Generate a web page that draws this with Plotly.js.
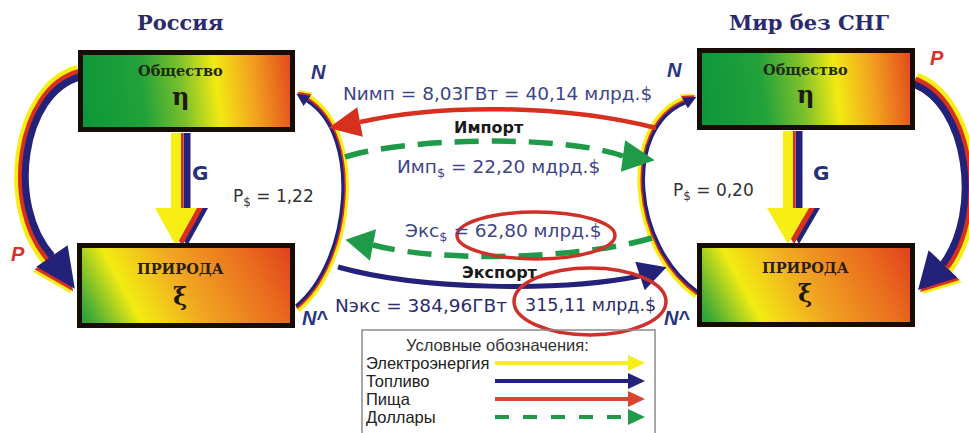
<!DOCTYPE html>
<html><head><meta charset="utf-8">
<script src="https://cdn.plot.ly/plotly-3.0.1.min.js"></script>
<style>html,body{margin:0;padding:0;background:#fff}</style>
</head><body><div id="c" style="width:969px;height:433px"></div>
<script>
// ---- data ----
const regions = ['Россия', 'Мир без СНГ'];
const psValues = [1.22, 0.20];            // P$ for Russia, world
const flowNames = ['Импорт', 'Экспорт'];
const energyGW = [8.03, 384.96];          // N imp, N exp (ГВт)
const energyBn = [40.14, 315.11];         // млрд.$
const dollarsBn = [22.20, 62.80];         // Имп$, Экс$
const boxLabels = ['Общество', 'ПРИРОДА'];
const boxSymbols = ['η', 'ξ'];
const legendTitle = 'Условные обозначения:';
const legendItems = ['Электроэнергия', 'Топливо', 'Пища', 'Доллары'];

const fmt = v => v.toFixed(2).replace('.', ',');

const NAVY = '#22227a', RED = '#d8301f', YEL = '#f6ee14', GRN = '#1e9a48';
const TXT = '#3d4589';

// ---- helpers ----
function bez(p) {
  return `M${p[0][0]},${p[0][1]} C${p[1][0]},${p[1][1]} ${p[2][0]},${p[2][1]} ${p[3][0]},${p[3][1]}`;
}
function radial(p, c, k) {
  return p.map(q => { const dx = q[0]-c[0], dy = q[1]-c[1]; const l = Math.hypot(dx,dy)||1; return [q[0]+dx/l*k, q[1]+dy/l*k]; });
}
function head(base, dir, L, W) {
  const l = Math.hypot(dir[0], dir[1]); const ux = dir[0]/l, uy = dir[1]/l; const px = -uy, py = ux;
  const t = [base[0]+ux*L, base[1]+uy*L];
  return `M${base[0]+px*W},${base[1]+py*W} L${t[0]},${t[1]} L${base[0]-px*W},${base[1]-py*W} Z`;
}
const shapes = [];
function line(path, color, width, dash) {
  shapes.push({type:'path', path, line:{color, width, dash: dash||'solid'}, fillcolor:'rgba(0,0,0,0)'});
}
function fill(path, color) {
  shapes.push({type:'path', path, line:{width:0}, fillcolor:color});
}
// layered arc: yellow outer, red middle, navy inner
function arc(pts, c, widths, hd) {
  const layers = [[YEL, widths[0], widths[3]], [RED, widths[1], widths[4]], [NAVY, widths[2], 0]];
  layers.forEach(([col, w, k]) => {
    const p = radial(pts, c, k);
    line(bez(p), col, w);
    if (hd) {
      const b = radial([hd.base], c, k)[0];
      fill(head(b, hd.dir, hd.L, hd.W), col);
    }
  });
}

// ---- boxes (gradient images + black border) ----
const topStops = [[0,'#0c963a'],[0.3,'#22a23a'],[0.48,'#7cc02c'],[0.64,'#f2ea12'],[0.8,'#f2a41f'],[1,'#e2461c']];
const botStops = [[0,'#0c9a3a'],[0.08,'#46ac36'],[0.26,'#f2ec12'],[0.5,'#f1a722'],[0.8,'#ea6a1e'],[1,'#de3e1c']];
const grad = (w, h, stops, top) => {
  const g = top ? `x1='0' y1='${h*0.65}' x2='${w}' y2='${h*0.35}'` : `x1='0' y1='${h}' x2='${w*0.93}' y2='${-h*0.3}'`;
  const svg = `<svg xmlns='http://www.w3.org/2000/svg' width='${w}' height='${h}' viewBox='0 0 ${w} ${h}' preserveAspectRatio='none'>` +
   `<defs><linearGradient id='g' gradientUnits='userSpaceOnUse' ${g}>` +
   stops.map(s => `<stop offset='${s[0]}' stop-color='${s[1]}'/>`).join('') +
   `</linearGradient></defs><rect width='${w}' height='${h}' fill='url(#g)'/></svg>`;
  return 'data:image/svg+xml;charset=utf-8,' + encodeURIComponent(svg);
};
const boxes = [[78,50,295,132,1],[77,243,295,328,0],[697,48,915,130,1],[697,243,915,327,0]];
const images = boxes.map(b => ({
  source: grad(b[2]-b[0], b[3]-b[1], b[4] ? topStops : botStops, b[4]), xref:'paper', yref:'paper',
  x: b[0]/969, y: 1 - b[1]/433, sizex: (b[2]-b[0])/969, sizey: (b[3]-b[1])/433,
  xanchor:'left', yanchor:'top', sizing:'stretch', layer:'below'
}));

// ---- G arrows (vertical, layered) ----
function gArrow(xc, y0, yHeadBase, yTip) {
  [[NAVY, 11, 7], [RED, 6, 3], [YEL, 0, 10]].forEach(([col, off, w]) => {
    line(`M${xc+off},${y0} L${xc+off},${yHeadBase}`, col, w);
    fill(`M${xc+off-21},${yHeadBase} L${xc+off+21},${yHeadBase} L${xc+off},${yTip} Z`, col);
  });
}
gArrow(176, 133, 208, 246);
gArrow(788, 131, 208, 244);

// ---- P arcs (thick) ----
arc([[80,77],[22,92],[6,205],[52,256]], [110,175], [13,10,7,6,3], {base:[52,256], dir:[25,36], L:40, W:19});
arc([[913,84],[968,104],[982,212],[943,264]], [860,180], [13,10,7,6,3], {base:[943,264], dir:[-26,27], L:36, W:20});

// ---- N arcs (thin) ----
arc([[296,306],[350,262],[362,135],[307,101]], [250,195], [6,3,3,4,2], {base:[307,101], dir:[-10,-7], L:13, W:6});
arc([[698,292],[632,245],[624,128],[685,103]], [745,190], [6,3,3,4,2], {base:[685,103], dir:[11,-6], L:13, W:6});

// ---- trade flows ----
// Import (red)
line('M656,128 C560,104 440,104 360,122', RED, 4.5);
fill(head([360,122], [-32,6], 32, 15), RED);
// Import dollars (green dashed)
line('M345,157 C405,138 560,134 623,156', GRN, 5.5, '24px,13px');
fill(head([623,156], [30,4], 32, 16), GRN);
// Export dollars (green dashed)
line('M652,238 C580,259 440,263 373,245', GRN, 5.5, '24px,13px');
fill(head([373,245], [-26,-5], 28, 16), GRN);
// Export (navy)
line('M338,267 C420,290 560,292 640,276', NAVY, 5);
fill(head([640,276], [27,-9], 28, 15), NAVY);
// highlight ellipses
shapes.push({type:'circle', x0:457, x1:615, y0:212, y1:259, line:{color:'#d0302a', width:3.5}});
shapes.push({type:'circle', x0:514, x1:666, y0:268, y1:335, line:{color:'#d0302a', width:3.5}});

// box borders
boxes.forEach(b => shapes.push({type:'rect', x0:b[0]+2.5, x1:b[2]-2.5, y0:b[1]+2.5, y1:b[3]-2.5, line:{color:'#160e06', width:5}}));

// ---- legend box ----
shapes.push({type:'rect', x0:362, x1:655, y0:330, y1:445, line:{color:'#8a8a8a', width:1.5}, fillcolor:'rgba(0,0,0,0)'});
const legendStyle = [[YEL, 'solid'], [NAVY, 'solid'], ['#d9452f', 'solid'], [GRN, '14px,14px']];
const legendY = [363, 381, 399, 417];
legendItems.forEach((t, i) => {
  line(`M495,${legendY[i]} L630,${legendY[i]}`, legendStyle[i][0], 4, legendStyle[i][1]);
  fill(`M628,${legendY[i]-8} L645,${legendY[i]} L628,${legendY[i]+8} Z`, legendStyle[i][0]);
});

// ---- annotations ----
const ann = [];
function txt(x, y, text, size, color, family, extra) {
  ann.push(Object.assign({x, y, xref:'x', yref:'y', text, showarrow:false, xanchor:'center', yanchor:'middle',
    font:{size, color, family}}, extra||{}));
}
const SERIF = 'DejaVu Serif', SANS = 'DejaVu Sans', ARIAL = 'Liberation Sans';
txt(180, 22, '<b>' + regions[0] + '</b>', 21, '#2b2a6e', SERIF);
txt(809, 22, '<b>' + regions[1] + '</b>', 21, '#2b2a6e', SERIF);
[[180, 70, 96], [805, 69, 94]].forEach(([x, y1, y2]) => {
  txt(x, y1, '<b>' + boxLabels[0] + '</b>', 14.5, '#1e2a14', SERIF);
  txt(x, y2, '<b>' + boxSymbols[0] + '</b>', 24, '#1e1a10', SERIF);
});
[[180, 268, 296], [805, 267, 293]].forEach(([x, y1, y2]) => {
  txt(x, y1, '<b>' + boxLabels[1] + '</b>', 14.5, '#2a1e16', SERIF);
  txt(x, y2, '<b>' + boxSymbols[1] + '</b>', 24, '#1e1a10', SERIF);
});
txt(200, 173, '<b>G</b>', 20, '#262f78', SANS);
txt(821, 173, '<b>G</b>', 20, '#262f78', SANS);
txt(273, 197, 'P<sub>$</sub> = ' + fmt(psValues[0]), 17, '#333', SANS);
txt(713, 191, 'P<sub>$</sub> = ' + fmt(psValues[1]), 17, '#333', SANS);
txt(18, 254, '<b><i>P</i></b>', 20, '#d9302a', ARIAL);
txt(937, 58, '<b><i>P</i></b>', 20, '#d9302a', ARIAL);
txt(318, 72, '<b><i>N</i></b>', 20, '#2a3580', ARIAL);
txt(674, 70, '<b><i>N</i></b>', 20, '#2a3580', ARIAL);
txt(315, 318, '<b><i>N</i>^</b>', 20, '#2a3580', ARIAL);
txt(677, 318, '<b><i>N</i>^</b>', 20, '#2a3580', ARIAL);

txt(497, 93, 'Nимп = ' + fmt(energyGW[0]) + 'ГВт = ' + fmt(energyBn[0]) + ' млрд.$', 18.5, TXT, SANS);
txt(489, 127, '<b>' + flowNames[0] + '</b>', 16, '#1a1a1a', SANS);
txt(498, 168, 'Имп<sub>$</sub> = ' + fmt(dollarsBn[0]) + ' мдрд.$', 18.5, TXT, SANS);
txt(503, 232, 'Экс<sub>$</sub> = ' + fmt(dollarsBn[1]) + ' млрд.$', 18.5, TXT, SANS);
txt(500, 272, '<b>' + flowNames[1] + '</b>', 16, '#1a1a1a', SANS);
txt(421, 305, 'Nэкс = ' + fmt(energyGW[1]) + 'ГВт', 18.5, '#2d2d6d', SANS);
txt(590, 305, fmt(energyBn[1]) + ' млрд.$', 17.5, '#2d2d6d', SANS);

txt(497, 345, legendTitle, 16.5, '#333', ARIAL);
legendItems.forEach((t, i) => txt(364, legendY[i], t, 16.5, '#222', ARIAL, {xanchor:'left'}));

Plotly.newPlot('c', [], {
  width: 969, height: 433, margin: {l:0, r:0, t:0, b:0},
  paper_bgcolor: '#fff', plot_bgcolor: '#fff',
  xaxis: {range:[0,969], visible:false, fixedrange:true},
  yaxis: {range:[433,0], visible:false, fixedrange:true},
  shapes, annotations: ann, images, showlegend:false
}, {staticPlot:true});
</script></body></html>
